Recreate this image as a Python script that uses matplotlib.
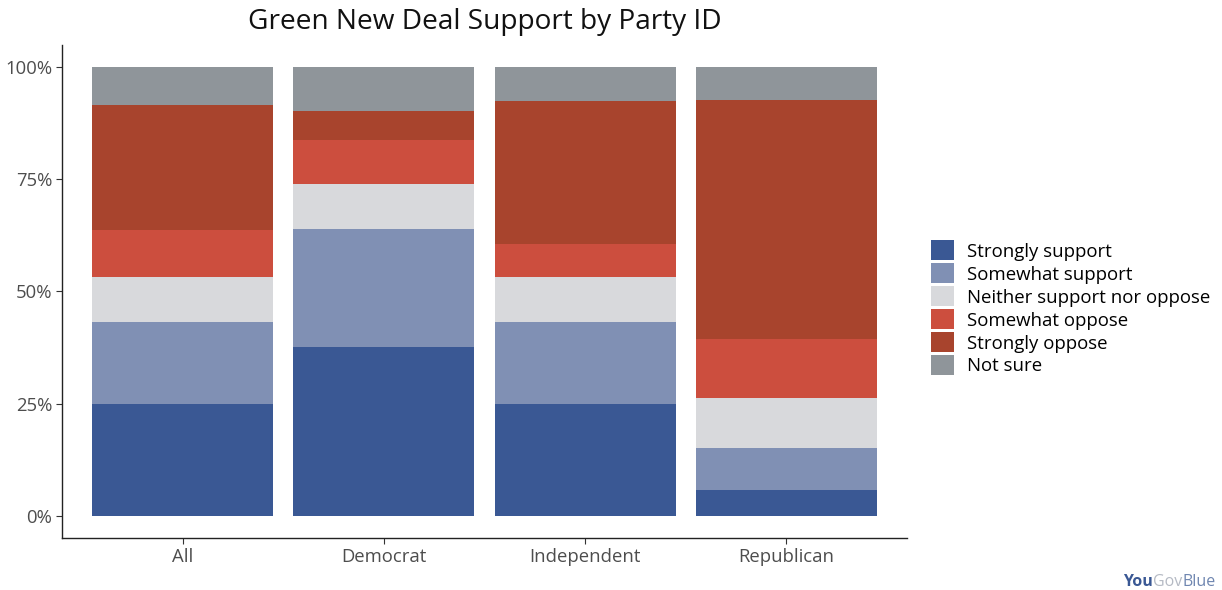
import numpy as np
import matplotlib
matplotlib.use("Agg")
from matplotlib import pyplot as plt
from matplotlib.patches import Patch

plt.rcParams['font.family'] = ['Open Sans', 'DejaVu Sans']

# Party groups on the x axis
groups = ['All', 'Democrat', 'Independent', 'Republican']

# Response shares (%), bottom to top
strongly_support = [25.0, 37.7, 24.8, 5.8]
somewhat_support = [18.1, 26.3, 18.3, 9.4]
neither = [10.2, 10.0, 10.2, 11.1]
somewhat_oppose = [10.3, 9.8, 7.2, 13.2]
strongly_oppose = [27.9, 6.5, 31.9, 53.1]
not_sure = [8.5, 9.7, 7.6, 7.4]

responses = ['Strongly support', 'Somewhat support', 'Neither support nor oppose',
             'Somewhat oppose', 'Strongly oppose', 'Not sure']
colors = ['#3a5894', '#8090b4', '#d8d9dc', '#cc4e3e', '#a8442d', '#8f959a']

series = [strongly_support, somewhat_support, neither,
          somewhat_oppose, strongly_oppose, not_sure]

fig = plt.figure(figsize=(12.22, 5.9), dpi=100)
ax = fig.add_axes([0.0507, 0.088, 0.6915, 0.836])

x = np.arange(1, len(groups) + 1)
bottom = np.zeros(len(groups))
for vals, col in zip(series, colors):
    vals = np.array(vals)
    ax.bar(x, vals, bottom=bottom, width=0.9, color=col, linewidth=0)
    bottom += vals

ax.set_xlim(0.4, 4.6)
ax.set_ylim(-5, 105)
ax.set_yticks([0, 25, 50, 75, 100])
ax.set_yticklabels(['0%', '25%', '50%', '75%', '100%'])
ax.set_xticks(x)
ax.set_xticklabels(groups)
ax.tick_params(axis='both', labelsize=13.3, colors='#333333', length=4,
               width=0.8, pad=3)
for lab in ax.get_xticklabels() + ax.get_yticklabels():
    lab.set_color('#4d4d4d')

for side in ['top', 'right']:
    ax.spines[side].set_visible(False)
for side in ['left', 'bottom']:
    ax.spines[side].set_color('#222222')
    ax.spines[side].set_linewidth(1.0)

fig.text(0.3965, 0.962, 'Green New Deal Support by Party ID', ha='center',
         va='center', fontsize=20.2, color='#111111')

handles = [Patch(facecolor=c, edgecolor='none') for c in colors]
fig.legend(handles, responses, loc='center left', bbox_to_anchor=(0.7546, 0.478),
           frameon=False, fontsize=13.4, handlelength=1.2, handleheight=1.25,
           handletextpad=0.7, labelspacing=0.155, borderpad=0)

# YouGov Blue mark, pieces placed one after another
fig.canvas.draw()
r = fig.canvas.get_renderer()
xpos = 0.919
for word, col, wt in [('You', '#3a5894', 'bold'), ('Gov', '#b5bac4', 'normal'),
                      ('Blue', '#6f86b0', 'normal')]:
    t = fig.text(xpos, 0.0, word, fontsize=11.5, fontweight=wt, color=col,
                 ha='left', va='bottom')
    bb = t.get_window_extent(renderer=r)
    xpos += bb.width / fig.bbox.width

fig.savefig('out.png', dpi=100)
